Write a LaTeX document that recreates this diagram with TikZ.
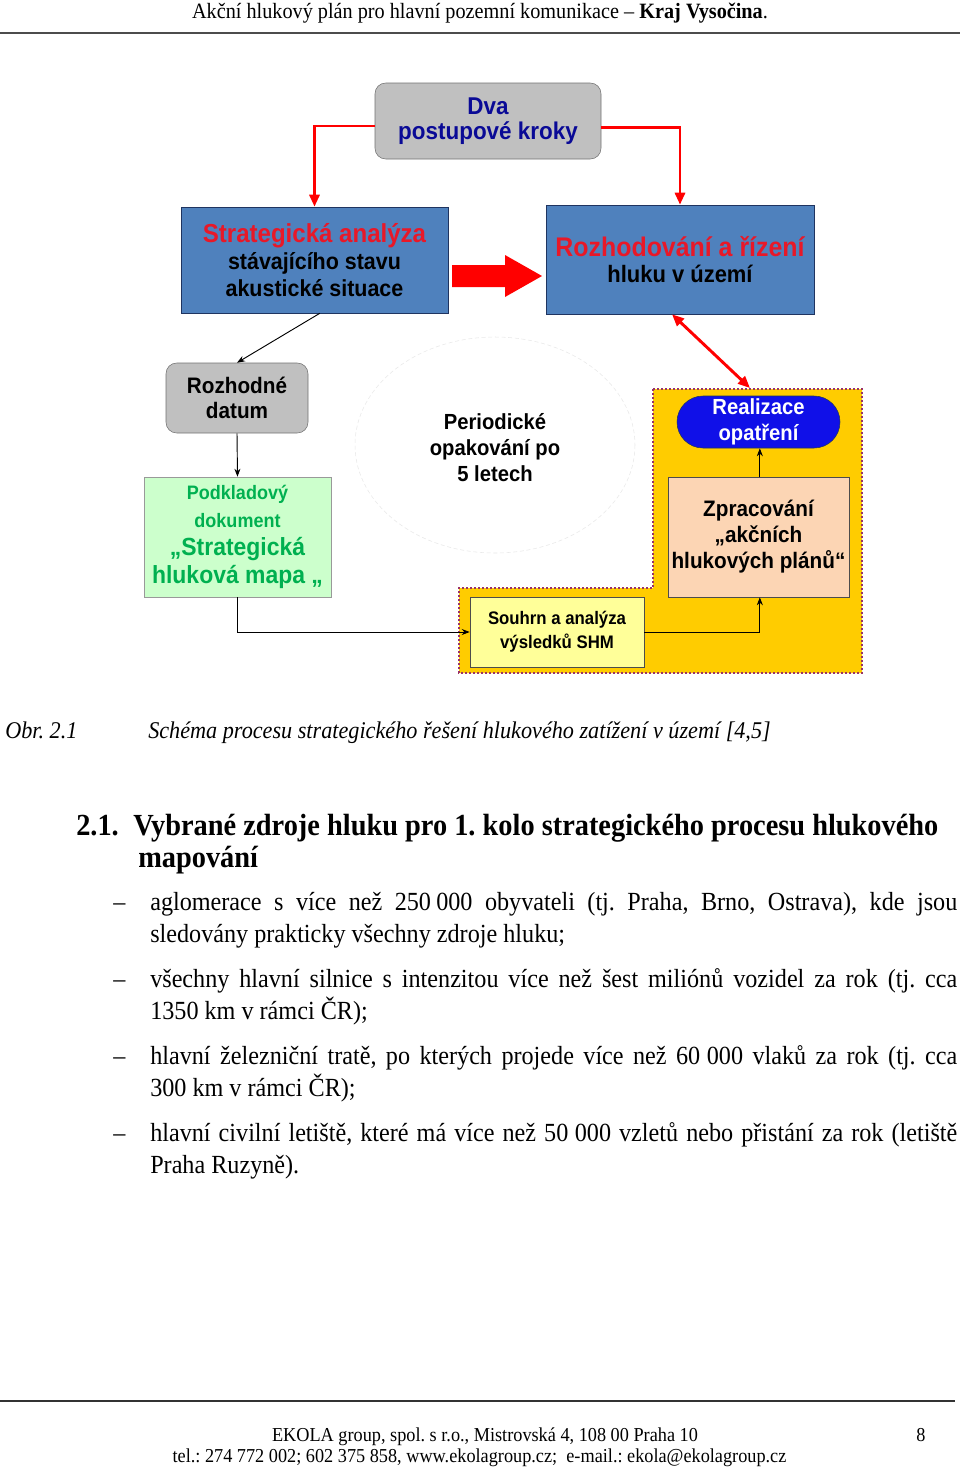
\documentclass[tikz,border=0pt]{standalone}
\usepackage{fontspec}
\setmainfont{Liberation Serif}[FakeStretch=0.925]
\newfontfamily\diag{Liberation Sans}[FakeStretch=0.925]
\usepackage{xcolor}
\usetikzlibrary{arrows.meta,positioning,shapes}
\frenchspacing
\newdimen\upx \upx=0.75pt
\definecolor{boxgray}{RGB}{192,192,192}
\definecolor{boxblue}{RGB}{79,129,189}
\definecolor{navy}{RGB}{31,52,96}
\definecolor{redtxt}{RGB}{232,24,40}
\definecolor{dvablue}{RGB}{10,10,150}
\definecolor{mintbg}{RGB}{204,255,204}
\definecolor{greentxt}{RGB}{0,176,80}
\definecolor{gold}{RGB}{255,204,0}
\definecolor{dotborder}{RGB}{153,51,102}
\definecolor{pillblue}{RGB}{16,16,232}
\definecolor{peach}{RGB}{252,213,180}
\definecolor{paleyellow}{RGB}{255,255,153}
\tikzset{graybox/.style={draw=black!55, fill=boxgray, rounded corners=8pt, inner sep=0pt,
		font=\diag\bfseries\fontsize{16.8}{19}\selectfont, align=center},
	bluebox/.style={draw=navy, fill=boxblue, rectangle, inner sep=0pt,
		font=\diag\bfseries\fontsize{17.4}{20}\selectfont, align=center},
	greenbox/.style={draw=black!40, fill=mintbg, rectangle, inner sep=0pt, text=greentxt,
		font=\diag\bfseries\fontsize{14.6}{21}\selectfont, align=center},
	pillbox/.style={draw=navy, fill=pillblue, rounded rectangle, inner sep=0pt, text=white,
		font=\diag\bfseries\fontsize{16.4}{19.5}\selectfont, align=center},
	peachbox/.style={draw=black!70, fill=peach, rectangle, inner sep=0pt,
		font=\diag\bfseries\fontsize{16.8}{19.5}\selectfont, align=center},
	yellowbox/.style={draw=black!70, fill=paleyellow, rectangle, inner sep=0pt,
		font=\diag\bfseries\fontsize{13.6}{18}\selectfont, align=center},
	redarrow/.style={draw=red, line width=2.2pt, -{Triangle[length=9pt,width=7.5pt]}},
	arrow/.style={draw, line width=0.7pt, -{Stealth[length=6pt,width=4.5pt]}},
	bodytext/.style={inner sep=0pt, font=\fontsize{19.6}{24}\selectfont}}

\begin{document}
\begin{tikzpicture}[x=0.75pt,y=-0.75pt]
	\useasboundingbox[fill=white](0,0)rectangle(960,1468);
	% page head
	\node[bodytext, anchor=base, font=\fontsize{16.4}{20}\selectfont](head)at(480,18)
	{Akční hlukový plán pro hlavní pozemní komunikace -- \textbf{Kraj Vysočina}.};
	\draw[line width=1.5pt, black!70](0,33)--(960,33);
	
	% yellow area and the faint cloud
	\filldraw[fill=gold, draw=dotborder, line width=2.2pt, dash pattern=on 1.6pt off 1.4pt]
	(653,389)--(862,389)--(862,673)--(459,673)--(459,588)--(653,588)--cycle;
	\draw[black!9, densely dashed](495,445)ellipse[x radius=140, y radius=108];
	
	\node[graybox, minimum width=226\upx, minimum height=76\upx, text=dvablue,
	font=\diag\bfseries\fontsize{18.2}{19}\selectfont](dva)at(488,121)
	{Dva\\postupové kroky};
	\node[bluebox, minimum width=267\upx, minimum height=106\upx](sa)at(314.5,260)
	{{\fontsize{19.5}{20}\selectfont\color{redtxt}Strategická analýza}\\stávajícího stavu\\akustické situace};
	\node[bluebox, minimum width=268\upx, minimum height=109\upx,
	font=\diag\bfseries\fontsize{17.8}{20}\selectfont](rr)at(680,259.5)
	{{\fontsize{20.2}{20}\selectfont\color{redtxt}Rozhodování a řízení}\\hluku v území};
	\node[graybox, minimum width=142\upx, minimum height=70\upx](rd)at(237,398)
	{Rozhodné\\datum};
	\node[greenbox, minimum width=187\upx, minimum height=120\upx](shm)at(237.5,537)
	{Podkladový\\dokument\\{\fontsize{18.6}{21}\selectfont„Strategická}\\{\fontsize{18.6}{21}\selectfont hluková mapa „}};
	\node[font=\diag\bfseries\fontsize{16.4}{19.5}\selectfont, align=center](per)at(495,448)
	{Periodické\\opakování po\\5 letech};
	\node[pillbox, minimum width=163\upx, minimum height=52\upx](real)at(758.5,422)
	{Realizace\\opatření};
	\node[peachbox, minimum width=181\upx, minimum height=120\upx](zpr)at(758.5,537)
	{Zpracování\\„akčních\\hlukových plánů“};
	\node[yellowbox, minimum width=174\upx, minimum height=70\upx](souhrn)at(557,632)
	{Souhrn a analýza\\výsledků SHM};
	
	% big block arrow
	\fill[red](452,265)--(505,265)--(505,255)--(542,276)--(505,297)--(505,287)--(452,287)--cycle;
	
	\coordinate(ytop)at(750,388);
	\draw[redarrow]([yshift=-3.75pt]dva.west)-|(sa.north);
	\draw[redarrow]([yshift=-5pt]dva.east)-|(rr.north);
	\draw[redarrow, {Triangle[length=9pt,width=7.5pt]}-{Triangle[length=9pt,width=7.5pt]}]
	([xshift=-6pt]rr.south)--(ytop);
	\draw[arrow]([xshift=4pt]sa.south)--(rd.north);
	\draw[arrow](rd.south)--(shm.north);
	\draw[arrow](shm.south)|-(souhrn.west);
	\draw[arrow](souhrn.east)-|([xshift=1pt]zpr.south);
	\draw[arrow]([xshift=1pt]zpr.north)--([xshift=1pt]real.south);
	
	% caption and section
	\node[bodytext, anchor=base west, font=\itshape\fontsize{18}{24}\selectfont](obr)at(5,738){Obr. 2.1};
	\node[bodytext, anchor=base west, font=\itshape\fontsize{18}{24}\selectfont](cap)at(148,738)
	{Schéma procesu strategického řešení hlukového zatížení v území [4,5]};
	\node[bodytext, anchor=base west, font=\bfseries\fontsize{23}{24}\selectfont](secno)at(76,835){2.1.};
	\node[bodytext, anchor=base west, font=\bfseries\fontsize{23}{24}\selectfont](sec)at(133,835)
	{Vybrané zdroje hluku pro 1. kolo strategického procesu hlukového};
	\node[bodytext, anchor=base west, font=\bfseries\fontsize{23}{24}\selectfont](sec2)at(138,867){mapování};
	
	% bullets
	\foreach \y in{910,987,1064,1141}
	\node[bodytext, anchor=base west]at(113,\y){--};
	\foreach \y/\txt in{910/{aglomerace s více než 250\kern.2em000 obyvateli (tj. Praha, Brno, Ostrava), kde jsou},
		987/{všechny hlavní silnice s intenzitou více než šest miliónů vozidel za rok (tj. cca},
		1064/{hlavní železniční tratě, po kterých projede více než 60\kern.25em000 vlaků za rok (tj. cca},
		1141/{hlavní civilní letiště, které má více než 50\kern.25em000 vzletů nebo přistání za rok (letiště}}
	\node[bodytext, anchor=base west]at(150,\y){\hbox to 807\upx{\txt}};
	\foreach \y/\txt in{942/{sledovány prakticky všechny zdroje hluku;},
		1019/{1350 km v rámci ČR);},1096/{300 km v rámci ČR);},1173/{Praha Ruzyně).}}
	\node[bodytext, anchor=base west]at(150,\y){\txt};
	
	% page foot
	\draw[line width=1.5pt, black!80](0,1401)--(955,1401);
	\node[bodytext, anchor=base, font=\fontsize{14.8}{18}\selectfont](foot1)at(485,1441)
	{EKOLA group, spol. s r.o., Mistrovská 4, 108 00 Praha 10};
	\node[bodytext, anchor=base, font=\fontsize{14.8}{18}\selectfont](foot2)at(479.5,1462)
	{tel.: 274 772 002; 602 375 858, www.ekolagroup.cz;\ \ e-mail.: ekola@ekolagroup.cz};
	\node[bodytext, anchor=base west, font=\fontsize{14.8}{18}\selectfont](pg)at(916,1441){8};
\end{tikzpicture}
\end{document}
